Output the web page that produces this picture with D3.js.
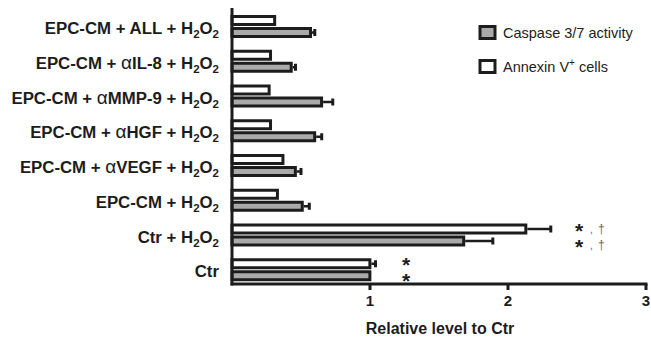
<!DOCTYPE html>
<html lang="en">
<head>
    <meta charset="UTF-8">
    <title>Relative level to Ctr</title>
    <script src="https://cdn.jsdelivr.net/npm/d3@7"></script>
    <style>
        body { margin: 0; background: #fff; }
        text { font-family: Arial, "Liberation Sans", sans-serif; }
    </style>
</head>
<body>
<svg width="651" height="337"></svg>
<script>
    // categories top to bottom
    var categories = ["EPC-CM + ALL + H2O2", "EPC-CM + αIL-8 + H2O2", "EPC-CM + αMMP-9 + H2O2",
        "EPC-CM + αHGF + H2O2", "EPC-CM + αVEGF + H2O2", "EPC-CM + H2O2", "Ctr + H2O2", "Ctr"];
    var annexin = [0.32, 0.29, 0.28, 0.29, 0.38, 0.34, 2.14, 1.01];
    var annexinErr = [0, 0, 0, 0, 0, 0, 0.17, 0.03];
    var caspase = [0.58, 0.44, 0.66, 0.61, 0.47, 0.52, 1.69, 1.01];
    var caspaseErr = [0.02, 0.02, 0.07, 0.04, 0.03, 0.04, 0.2, 0];
    var annexinMarks = ["", "", "", "", "", "", "*,†", "*"];
    var caspaseMarks = ["", "", "", "", "", "", "*,†", "*"];
    var xTicks = [1, 2, 3];

    var svg = d3.select("svg");
    var ink = "#1c1c1c";

    var x = d3.scaleLinear().domain([0, 3]).range([232, 646]);
    var y = d3.scaleBand().domain(categories).range([8, 286]);

    var barH = 11, stroke = 3;

    var rows = categories.map(function (c, i) {
        return {cat: c, a: annexin[i], ae: annexinErr[i], c: caspase[i], ce: caspaseErr[i],
            am: annexinMarks[i], cm: caspaseMarks[i]};
    });

    var g = svg.append("g").attr("class", "bars");

    function drawSeries(key, errKey, offset, fill) {
        var sel = g.selectAll(".s" + key).data(rows).enter().append("g").attr("class", "s" + key);
        var top = function (d) { return y(d.cat) + offset; };
        // error bar
        sel.filter(function (d) { return d[errKey] > 0; }).append("line")
            .attr("x1", function (d) { return x(d[key]); })
            .attr("x2", function (d) { return x(d[key] + d[errKey]); })
            .attr("y1", function (d) { return top(d) + barH / 2; })
            .attr("y2", function (d) { return top(d) + barH / 2; })
            .attr("stroke", ink).attr("stroke-width", 2.5);
        sel.filter(function (d) { return d[errKey] > 0; }).append("line")
            .attr("x1", function (d) { return x(d[key] + d[errKey]); })
            .attr("x2", function (d) { return x(d[key] + d[errKey]); })
            .attr("y1", function (d) { return top(d) + barH / 2 - 3.5; })
            .attr("y2", function (d) { return top(d) + barH / 2 + 3.5; })
            .attr("stroke", ink).attr("stroke-width", 3);
        sel.append("rect")
            .attr("x", x(0))
            .attr("y", function (d) { return top(d) + stroke / 2; })
            .attr("width", function (d) { return x(d[key]) - x(0) - stroke / 2; })
            .attr("height", barH - stroke)
            .attr("fill", fill)
            .attr("stroke", ink)
            .attr("stroke-width", stroke);
    }

    drawSeries("a", "ae", 7, "#ffffff");
    drawSeries("c", "ce", 19, "#aaaaaa");

    // significance marks: one text per category, two lines (annexin, caspase)
    rows.filter(function (d) { return d.am || d.cm; }).forEach(function (d) {
        var xm = d.cat === "Ctr" ? 402 : 575;
        var t = svg.append("text").attr("x", xm).attr("y", y(d.cat) + 21).attr("fill", ink);
        [d.am, d.cm].forEach(function (m, j) {
            var yb = y(d.cat) + 21 + j * 16;
            t.append("tspan").attr("x", xm).attr("y", yb)
                .text("*").attr("font-size", 21).attr("font-weight", "bold");
            if (m.length > 1) {
                t.append("tspan").text(",").attr("x", xm + 15).attr("y", yb - 5)
                    .attr("font-size", 10).attr("fill", "#666");
                t.append("tspan").text("†").attr("x", xm + 23).attr("y", yb - 5)
                    .attr("font-size", 12).attr("fill", "#666");
            }
        });
    });

    // axes lines
    svg.append("line").attr("x1", x(0)).attr("x2", x(0)).attr("y1", 8).attr("y2", 285.5)
        .attr("stroke", ink).attr("stroke-width", 3);
    svg.append("line").attr("x1", x(0) - 1.5).attr("x2", x(3) + 1.5).attr("y1", 284).attr("y2", 284)
        .attr("stroke", ink).attr("stroke-width", 3);

    svg.selectAll(".tick").data(xTicks).enter().append("line")
        .attr("x1", function (d) { return x(d); }).attr("x2", function (d) { return x(d); })
        .attr("y1", 284).attr("y2", 290)
        .attr("stroke", ink).attr("stroke-width", 3);
    svg.selectAll(".tickLabel").data(xTicks).enter().append("text")
        .attr("x", function (d) { return x(d); }).attr("y", 306)
        .attr("text-anchor", "middle").attr("font-size", 15).attr("font-weight", "bold")
        .attr("fill", ink).text(function (d) { return d; });

    svg.append("text").attr("x", 440).attr("y", 334).attr("text-anchor", "middle")
        .attr("font-size", 16).attr("font-weight", "bold").attr("fill", ink)
        .text("Relative level to Ctr");

    // category labels with subscripts
    categories.forEach(function (c) {
        var t = svg.append("text")
            .attr("x", 219).attr("y", y(c) + 26)
            .attr("text-anchor", "end").attr("font-size", 16.8).attr("font-weight", "bold")
            .attr("fill", ink);
        var parts = c.split(/(2|α)/);
        var sub = false;
        parts.forEach(function (p) {
            if (!p) return;
            if (p === "2") {
                t.append("tspan").text("2").attr("font-size", 11.5).attr("dy", sub ? 0 : 4);
                sub = true;
            } else {
                var ts = t.append("tspan").text(p).attr("dy", sub ? -4 : 0);
                if (p === "α") ts.attr("font-weight", "normal").attr("font-size", 19);
                sub = false;
            }
        });
    });

    // legend
    var legend = [{label: "Caspase 3/7 activity", fill: "#aaaaaa", y: 25},
        {label: "Annexin V", sup: "+", tail: " cells", fill: "#ffffff", y: 59}];
    var lg = svg.selectAll(".legend").data(legend).enter().append("g");
    lg.append("rect").attr("x", 480).attr("y", function (d) { return d.y + 1.5; })
        .attr("width", 15).attr("height", 12)
        .attr("fill", function (d) { return d.fill; }).attr("stroke", ink).attr("stroke-width", 3);
    lg.each(function (d) {
        var t = d3.select(this).append("text").attr("x", 503).attr("y", d.y + 12.5)
            .attr("font-size", 14.5).attr("fill", "#222");
        t.append("tspan").text(d.label);
        if (d.sup) {
            t.append("tspan").text(d.sup).attr("font-size", 10).attr("dy", -6);
            t.append("tspan").text(d.tail).attr("dy", 6);
        }
    });
</script>
</body>
</html>
